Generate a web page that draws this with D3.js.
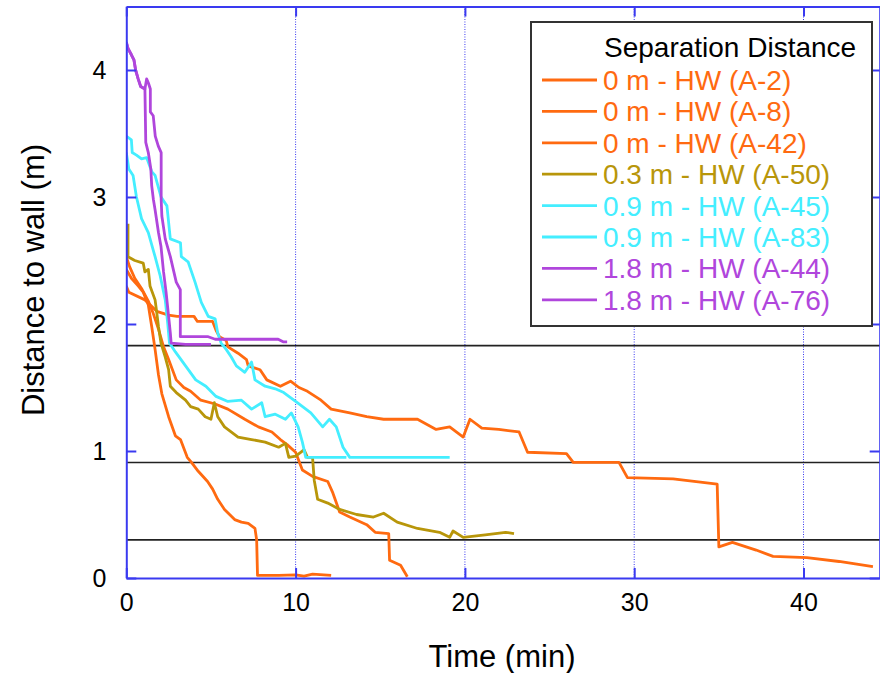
<!DOCTYPE html>
<html><head><meta charset="utf-8">
<script src="https://cdn.jsdelivr.net/npm/d3@7"></script>
<style>
html,body{margin:0;padding:0;background:#fff;}
svg{display:block;font-family:Arial,"Liberation Sans",sans-serif;}
</style></head>
<body><svg id="chart" width="880" height="673"></svg>
<script>
// ---- data ----
const xTicks = [0, 10, 20, 30, 40];
const yTicks = [0, 1, 2, 3, 4];
const refLines = [1.83, 0.91, 0.30];
const legendTitle = "Separation Distance";
const seriesNames = ["0 m - HW (A-2)", "0 m - HW (A-8)", "0 m - HW (A-42)", "0.3 m - HW (A-50)",
  "0.9 m - HW (A-45)", "0.9 m - HW (A-83)", "1.8 m - HW (A-44)", "1.8 m - HW (A-76)"];
const seriesColors = ["#ff6a10", "#ff6a10", "#ff6a10", "#b8960a", "#44eeff", "#44eeff", "#b046dc", "#b046dc"];

const a2 = [[0,2.43],[0.3,2.36],[0.7,2.30],[1.0,2.25],[1.3,2.15],[1.5,1.98],[1.7,1.80],[1.9,1.60],[2.1,1.45],[2.5,1.27],[2.9,1.12],[3.2,1.09],[3.6,0.95],[3.85,0.91],[4.25,0.84],[4.8,0.76],[5.1,0.70],[5.4,0.62],[5.8,0.54],[6.1,0.50],[6.4,0.46],[6.8,0.44],[7.2,0.43],[7.6,0.39],[7.7,0.30],[7.75,0.02],[9.0,0.02],[10.0,0.025],[10.5,0.015],[11,0.03],[12.1,0.02]];
const a8 = [[0,2.53],[0.2,2.45],[0.5,2.36],[0.9,2.28],[1.3,2.18],[1.6,2.08],[1.9,1.96],[2.2,1.82],[2.5,1.72],[2.95,1.56],[3.4,1.50],[3.8,1.47],[4.4,1.40],[5.25,1.37],[6.0,1.33],[7.0,1.25],[7.8,1.19],[8.6,1.15],[9.1,1.09],[9.5,1.05],[10.0,0.99],[10.4,0.85],[11.0,0.80],[11.9,0.76],[12.2,0.67],[12.6,0.52],[13.2,0.48],[14.2,0.42],[14.7,0.36],[15.5,0.35],[15.55,0.14],[16.2,0.10],[16.6,0.01]];
const a42 = [[0,2.30],[0.15,2.25],[1.1,2.19],[1.8,2.10],[2.5,2.07],[3.0,2.06],[4.0,2.06],[4.2,2.02],[5.1,2.02],[5.3,1.95],[5.5,1.90],[5.9,1.87],[6.0,1.82],[6.6,1.77],[7.1,1.72],[7.2,1.67],[7.9,1.64],[8.3,1.56],[9.1,1.51],[9.7,1.55],[10.2,1.50],[10.7,1.47],[11.5,1.40],[12.1,1.33],[13.2,1.30],[14.2,1.27],[15.2,1.25],[17.2,1.25],[18.3,1.17],[19.1,1.19],[19.9,1.11],[20.3,1.25],[21,1.18],[22,1.17],[23.2,1.15],[23.7,0.99],[26.0,0.98],[26.4,0.91],[29.1,0.91],[29.6,0.79],[32.3,0.78],[34.9,0.74],[35.0,0.245],[35.8,0.28],[37.2,0.22],[38.2,0.17],[40.2,0.16],[42.1,0.13],[44.1,0.09]];
const a50 = [[0.1,2.79],[0.1,2.53],[0.5,2.50],[1.0,2.48],[1.1,2.41],[1.3,2.43],[1.4,2.30],[1.7,2.19],[1.8,2.09],[1.9,1.98],[2.05,1.85],[2.3,1.74],[2.5,1.64],[2.6,1.51],[2.95,1.46],[3.5,1.40],[3.8,1.35],[4.25,1.33],[4.66,1.27],[5.0,1.25],[5.2,1.38],[5.4,1.27],[5.8,1.19],[6.6,1.11],[7.4,1.09],[8.2,1.07],[9.0,1.03],[9.4,1.06],[9.6,0.95],[10.0,0.96],[10.3,0.99],[10.5,1.01],[10.7,0.95],[11.0,0.95],[11.1,0.77],[11.3,0.62],[11.9,0.59],[12.6,0.54],[13.6,0.50],[14.6,0.48],[15.2,0.51],[16.0,0.44],[17.2,0.39],[18.5,0.36],[19.1,0.32],[19.3,0.37],[19.9,0.32],[21.2,0.34],[22.4,0.36],[22.9,0.35]];
const a45 = [[0,3.35],[0.15,3.22],[0.4,3.17],[0.6,3.0],[0.9,2.83],[1.3,2.72],[1.7,2.53],[2.0,2.38],[2.3,2.19],[2.45,2.0],[2.55,1.85],[2.9,1.78],[3.5,1.67],[4.1,1.56],[4.7,1.51],[5.3,1.43],[6.0,1.39],[6.8,1.40],[7.4,1.33],[8.0,1.38],[8.2,1.27],[8.8,1.29],[9.4,1.25],[9.75,1.30],[10.15,1.19],[10.4,1.07],[10.6,0.95],[13.0,0.95]];
const a83 = [[0,3.48],[0.3,3.45],[0.35,3.35],[0.6,3.33],[0.9,3.30],[1.2,3.31],[1.5,3.20],[1.7,3.17],[2.05,3.0],[2.4,2.93],[2.6,2.67],[3.2,2.64],[3.25,2.53],[3.65,2.49],[4.06,2.33],[4.43,2.17],[4.84,2.06],[5.25,2.04],[5.4,1.93],[5.6,1.85],[5.9,1.80],[6.2,1.74],[6.5,1.67],[7.0,1.62],[7.4,1.70],[7.6,1.56],[8.2,1.51],[8.8,1.49],[9.3,1.46],[10.1,1.38],[10.9,1.30],[11.6,1.19],[12.0,1.25],[12.4,1.19],[12.8,1.03],[13.2,0.95],[19.1,0.95]];
const a44 = [[0,4.22],[0.1,4.17],[0.3,4.12],[0.45,4.08],[0.55,4.0],[0.7,3.93],[0.85,3.87],[1.1,3.85],[1.15,3.43],[1.3,3.35],[1.45,3.22],[1.5,3.09],[1.6,2.98],[1.7,2.90],[1.9,2.72],[2.05,2.61],[2.2,2.41],[2.35,2.25],[2.5,2.06],[2.6,1.93],[2.65,1.85],[3.5,1.84],[5.0,1.84]];
const a76 = [[0,4.22],[0.1,4.17],[0.3,4.12],[0.45,4.08],[0.55,4.0],[0.7,3.93],[0.85,3.87],[1.1,3.85],[1.2,3.93],[1.3,3.90],[1.42,3.85],[1.42,3.67],[1.59,3.64],[1.71,3.48],[1.89,3.40],[2.06,3.35],[2.06,2.98],[2.1,2.85],[2.3,2.67],[2.6,2.53],[2.95,2.33],[3.19,2.27],[3.19,1.90],[4.84,1.90],[5.25,1.88],[8.97,1.88],[9.26,1.86],[9.5,1.86]];
const seriesData = [a2, a8, a42, a50, a45, a83, a44, a76];

// ---- layout ----
const svg = d3.select("#chart");
const x = d3.scaleLinear().domain([0, 44.5]).range([126.3, 879.7]);
const y = d3.scaleLinear().domain([0, 4.5]).range([578, 6.5]);
const blue = "#3a3af0";
const L = x.range()[0], R = x.range()[1], T = y.range()[1], B = y.range()[0];

svg.append("defs").append("clipPath").attr("id","clip")
  .append("rect").attr("x", L).attr("y", T).attr("width", R - L).attr("height", B - T);

// vertical dotted grid
svg.append("g").selectAll("line").data(xTicks.filter(d => d > 0)).join("line")
  .attr("x1", d => x(d)).attr("x2", d => x(d)).attr("y1", T).attr("y2", B)
  .attr("stroke", blue).attr("stroke-width", 1).attr("stroke-dasharray", "1,1.5");

// reference horizontal lines
svg.append("g").selectAll("line").data(refLines).join("line")
  .attr("x1", L).attr("x2", R).attr("y1", d => y(d)).attr("y2", d => y(d))
  .attr("stroke", "#222").attr("stroke-width", 1.6);

// series
const line = d3.line().x(d => x(d[0])).y(d => y(d[1]));
svg.append("g").attr("clip-path", "url(#clip)").selectAll("path").data(seriesData).join("path")
  .attr("d", line).attr("fill", "none")
  .attr("stroke", (d, i) => seriesColors[i]).attr("stroke-width", 2.8)
  .attr("stroke-linejoin", "round");

// axes
function styleAxis(g) {
  g.select(".domain").attr("stroke", blue).attr("stroke-width", 2);
  g.selectAll(".tick line").attr("stroke", blue).attr("stroke-width", 2);
  g.selectAll(".tick text").attr("fill", "#000").style("font-size", "25px")
    .style("font-family", "Arial, 'Liberation Sans', sans-serif");
}
svg.append("g").attr("transform", `translate(0,${B})`)
  .call(d3.axisBottom(x).tickValues(xTicks).tickSize(-10).tickSizeOuter(0).tickPadding(15).tickFormat(d3.format("d")))
  .call(styleAxis);
svg.append("g").attr("transform", `translate(${L},0)`)
  .call(d3.axisLeft(y).tickValues(yTicks).tickSize(-10).tickSizeOuter(0).tickPadding(20).tickFormat(d3.format("d")))
  .call(styleAxis);
svg.append("g").attr("transform", `translate(0,${T})`)
  .call(d3.axisTop(x).tickValues(xTicks).tickSize(-10).tickSizeOuter(0).tickFormat(""))
  .call(styleAxis);
svg.append("g").attr("transform", `translate(${R},0)`)
  .call(d3.axisRight(y).tickValues(yTicks).tickSize(-10).tickSizeOuter(0).tickFormat(""))
  .call(styleAxis);

// axis titles
svg.append("text").attr("x", 502).attr("y", 667).attr("text-anchor", "middle")
  .style("font-size", "31px").text("Time (min)");
svg.append("text").attr("transform", "translate(44,280) rotate(-90)").attr("text-anchor", "middle")
  .style("font-size", "31px").text("Distance to wall (m)");

// legend
const lg = svg.append("g");
lg.append("rect").attr("x", 531).attr("y", 22).attr("width", 341).attr("height", 304)
  .attr("fill", "#fff").attr("stroke", "#333").attr("stroke-width", 2);
lg.append("text").attr("x", 604).attr("y", 57).style("font-size", "28px").attr("fill", "#000").text(legendTitle);
const rowY = i => 80 + i * 31.4;
seriesNames.forEach((name, i) => {
  lg.append("line").attr("x1", 542).attr("x2", 597).attr("y1", rowY(i)).attr("y2", rowY(i))
    .attr("stroke", seriesColors[i]).attr("stroke-width", 2.8);
  lg.append("text").attr("x", 603).attr("y", rowY(i) + 10).style("font-size", "28px")
    .attr("fill", seriesColors[i]).text(name);
});
</script></body></html>
